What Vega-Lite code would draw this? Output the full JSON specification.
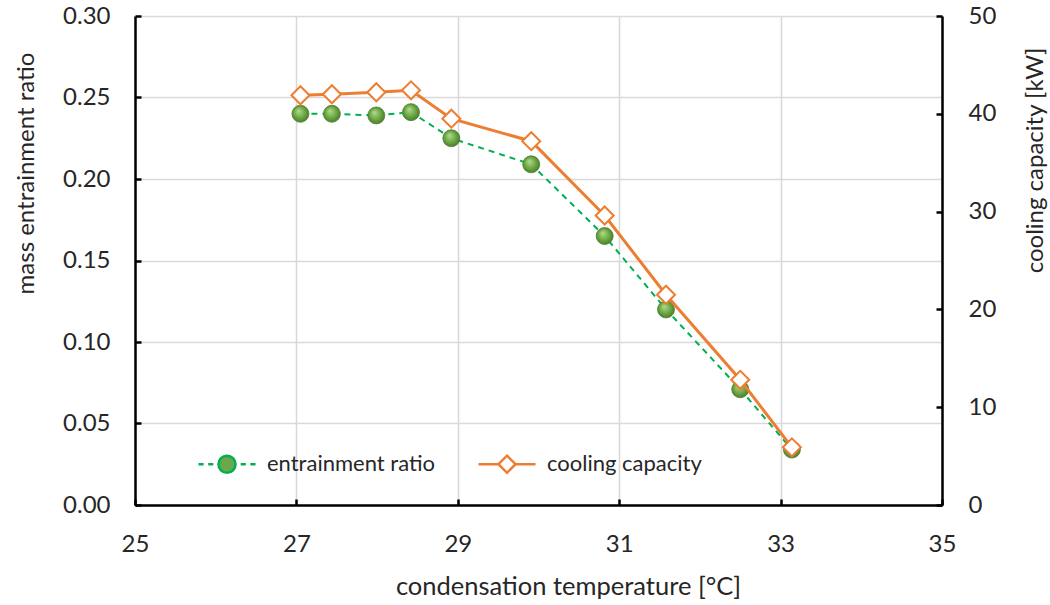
{
  "$schema": "https://vega.github.io/schema/vega-lite/v6.json",
  "width": 807,
  "height": 489,
  "autosize": {"type": "none"},
  "padding": {"left": 135, "top": 16, "right": 108, "bottom": 100},
  "background": "white",
  "config": {
    "font": "Lato",
    "view": {"stroke": null},
    "axis": {
      "labelFont": "Lato",
      "titleFont": "Lato",
      "labelFontSize": 24,
      "titleFontSize": 24,
      "titleFontWeight": "normal",
      "labelColor": "#262626",
      "titleColor": "#262626",
      "labelFlush": false,
      "labelOverlap": false,
      "domainColor": "black",
      "domainWidth": 2.5,
      "tickColor": "black",
      "tickWidth": 2.5,
      "tickSize": -6,
      "gridColor": "#D9D9D9",
      "gridWidth": 1.6
    }
  },
  "data": {
    "values": [
      {"t": 27.05, "r": 0.240, "c": 41.9},
      {"t": 27.44, "r": 0.240, "c": 42.0},
      {"t": 27.99, "r": 0.239, "c": 42.2},
      {"t": 28.42, "r": 0.241, "c": 42.4},
      {"t": 28.92, "r": 0.225, "c": 39.5},
      {"t": 29.91, "r": 0.209, "c": 37.2},
      {"t": 30.82, "r": 0.165, "c": 29.6},
      {"t": 31.58, "r": 0.120, "c": 21.5},
      {"t": 32.50, "r": 0.071, "c": 12.8},
      {"t": 33.14, "r": 0.034, "c": 5.9}
    ]
  },
  "encoding": {
    "x": {
      "field": "t",
      "type": "quantitative",
      "scale": {"domain": [25, 35], "nice": false},
      "axis": {
        "values": [25, 27, 29, 31, 33, 35],
        "grid": true,
        "title": "condensation temperature [°C]",
        "titleFontSize": 25.5,
        "labelPadding": 33,
        "titleX": 433,
        "titleY": 81,
        "titleAlign": "center",
        "titleBaseline": "middle"
      }
    }
  },
  "layer": [
    {
      "encoding": {
        "y": {
          "field": "r",
          "type": "quantitative",
          "scale": {"domain": [0, 0.3], "nice": false},
          "axis": {
            "orient": "left",
            "values": [0, 0.05, 0.1, 0.15, 0.2, 0.25, 0.3],
            "format": ".2f",
            "grid": true,
            "title": "mass entrainment ratio",
            "labelPadding": 31,
            "titleX": -109,
            "titleY": 157,
            "titleAngle": -90,
            "titleAlign": "center",
            "titleBaseline": "middle"
          }
        }
      },
      "layer": [
        {
          "mark": {"type": "line", "strokeWidth": 2, "strokeDash": [6, 5]},
          "encoding": {
            "color": {
              "datum": "entrainment ratio",
              "type": "nominal",
              "scale": {"domain": ["entrainment ratio", "cooling capacity"], "range": ["#00B050", "#ED7D31"]},
              "legend": {
                "title": null,
                "orient": "none",
                "direction": "horizontal",
                "legendX": 62,
                "legendY": 418,
                "labelFont": "Lato",
                "labelFontSize": 22,
                "labelColor": "#262626",
                "labelLimit": 400,
                "labelOffset": 10,
                "columnPadding": 38,
                "symbolSize": 3249,
                "encode": {
                  "symbols": {
                    "update": {
                      "shape": {"signal": "datum.value === 'cooling capacity' ? 'M-1,0H-0.3M0.3,0H1M0,-0.3L0.3,0L0,0.3L-0.3,0Z' : 'M-1,0H-0.82M-0.66,0H-0.48M0.48,0H0.66M0.82,0H1M0.3,0A0.3,0.3 0 1,1 -0.3,0A0.3,0.3 0 1,1 0.3,0Z'"},
                      "fill": {"signal": "datum.value === 'cooling capacity' ? 'white' : '#6AA84F'"},
                      "stroke": {"signal": "datum.value === 'cooling capacity' ? '#ED7D31' : '#2DB34A'"},
                      "strokeWidth": {"value": 2.5},
                      "strokeDash": {"value": []},
                      "opacity": {"value": 1},
                      "size": {"value": 3249}
                    }
                  }
                }
              }
            }
          }
        },
        {
          "mark": {
            "type": "point",
            "shape": "circle",
            "size": 289,
            "filled": true,
            "opacity": 1,
            "fill": {
              "gradient": "radial",
              "x1": 0.38, "y1": 0.32, "r1": 0,
              "x2": 0.5, "y2": 0.5, "r2": 0.6,
              "stops": [
                {"offset": 0, "color": "#B5DA92"},
                {"offset": 0.5, "color": "#70AD47"},
                {"offset": 1, "color": "#3F6F22"}
              ]
            },
            "stroke": "#507E32",
            "strokeWidth": 0.8
          }
        }
      ]
    },
    {
      "encoding": {
        "y": {
          "field": "c",
          "type": "quantitative",
          "scale": {"domain": [0, 50], "nice": false},
          "axis": {
            "orient": "right",
            "values": [0, 10, 20, 30, 40, 50],
            "grid": false,
            "title": "cooling capacity [kW]",
            "labelPadding": 32,
            "titleX": 93,
            "titleY": 144,
            "titleAngle": -90,
            "titleAlign": "center",
            "titleBaseline": "middle"
          }
        }
      },
      "layer": [
        {
          "mark": {"type": "line", "strokeWidth": 3},
          "encoding": {
            "color": {"datum": "cooling capacity", "type": "nominal"}
          }
        },
        {
          "mark": {
            "type": "point",
            "shape": "diamond",
            "size": 324,
            "filled": true,
            "opacity": 1,
            "fill": "white",
            "stroke": "#ED7D31",
            "strokeWidth": 2
          }
        }
      ]
    }
  ],
  "resolve": {"scale": {"y": "independent"}}
}
